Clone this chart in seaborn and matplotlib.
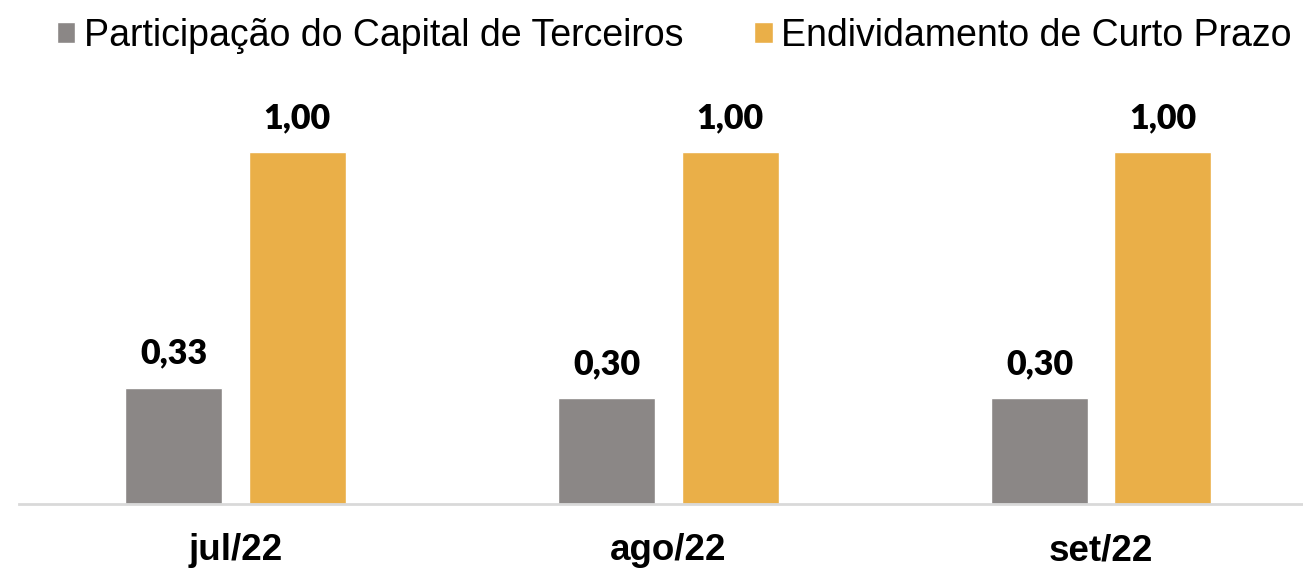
import matplotlib
matplotlib.use("Agg")
import matplotlib.pyplot as plt
import seaborn as sns
import pandas as pd

categories = ["jul/22", "ago/22", "set/22"]
series_names = ["Participação do Capital de Terceiros", "Endividamento de Curto Prazo"]
participacao = [0.33, 0.30, 0.30]
endividamento = [1.00, 1.00, 1.00]
value_labels = [["0,33", "0,30", "0,30"], ["1,00", "1,00", "1,00"]]

colors = ["#8B8786", "#EAAF48"]

sns.set_theme(style="white")
plt.rcParams["font.family"] = ["Liberation Sans", "DejaVu Sans"]

df = pd.DataFrame({
    "cat": categories * 2,
    "serie": [series_names[0]] * 3 + [series_names[1]] * 3,
    "val": participacao + endividamento,
})

fig = plt.figure(figsize=(13.03, 5.68), dpi=100)
ax = fig.add_axes([0.01458, 0.1127, 0.9854, 0.7436])

sns.barplot(data=df, x="cat", y="val", hue="serie", order=categories,
            hue_order=series_names, palette=colors, width=0.57, gap=0.214,
            saturation=1, ax=ax, errorbar=None)

ax.set_xlim(-0.5, 2.466)
ax.set_ylim(0, 1.2)

for i, cont in enumerate(ax.containers):
    ax.bar_label(cont, labels=value_labels[i], padding=13,
                 fontsize=24.5, fontweight="heavy", family="Lato", color="black")

for s in ["top", "right", "left"]:
    ax.spines[s].set_visible(False)
ax.spines["bottom"].set_color("#D9D9D9")
ax.spines["bottom"].set_linewidth(2)
ax.set_yticks([])
ax.set_xlabel("")
ax.set_ylabel("")
ax.tick_params(axis="x", length=0, pad=21)
for t in ax.get_xticklabels():
    t.set_fontsize(26.5)
    t.set_fontweight("bold")
    t.set_color("black")

handles, labels = ax.get_legend_handles_labels()
leg = ax.legend(handles, labels, ncol=2, loc="center", bbox_to_anchor=(0.5104, 1.108),
                frameon=False, fontsize=27, handlelength=0.49, handleheight=0.49,
                handletextpad=0.22, columnspacing=1.9, borderaxespad=0)
for t in leg.get_texts():
    t.set_color("black")

fig.savefig("out.png", dpi=100)
